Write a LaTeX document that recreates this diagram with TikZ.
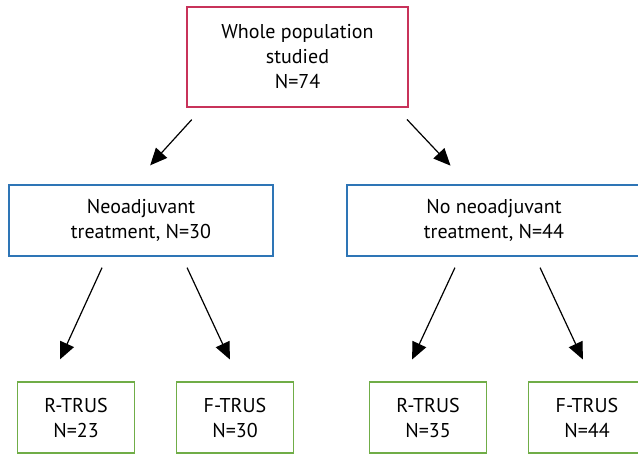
\documentclass[tikz,border=0pt]{standalone}
\usepackage{fontspec}
\setmainfont{PT Sans}
\usetikzlibrary{arrows.meta,positioning}
\definecolor{popred}{HTML}{C8325A}
\definecolor{treatblue}{HTML}{2E75B6}
\definecolor{trusgreen}{HTML}{70AD47}
\tikzset{
	box/.style={draw, line width=1.6pt, align=center, inner sep=0pt, font=\fontsize{20}{25}\selectfont},
	popbox/.style={box, draw=popred, minimum width=221pt, minimum height=100pt},
	treatbox/.style={box, draw=treatblue, minimum height=71pt},
	trusbox/.style={box, draw=trusgreen, minimum width=117pt, minimum height=71pt},
	arr/.style={-{Triangle[length=17pt,width=15pt]}, line width=1.2pt},
}
\begin{document}
\begin{tikzpicture}[x=1pt,y=-1pt]
	\useasboundingbox (0,0) rectangle (638,455);
	% boxes
	\node [popbox] (whole) at (297.5,57) {Whole population\\studied\\N=74};
	\node [treatbox, minimum width=264pt] (neo) at (141,220.5) {Neoadjuvant\\treatment, N=30};
	\node [treatbox, minimum width=294pt] (noneo) at (494,220.5) {No neoadjuvant\\treatment, N=44};
	\node [trusbox] (rneo) at (76,417.5) {R-TRUS\\N=23};
	\node [trusbox] (fneo) at (235,417.5) {F-TRUS\\N=30};
	\node [trusbox] (rno) at (428,417.5) {R-TRUS\\N=35};
	\node [trusbox] (fno) at (587,417.5) {F-TRUS\\N=44};
	% arrows
	\draw [arr, shorten <=16pt, shorten >=25.5pt] ([xshift=-95pt]whole.south) -- ([xshift=-8pt]neo.north);
	\draw [arr, shorten <=16pt, shorten >=25.5pt] ([xshift=98.5pt]whole.south) -- ([xshift=-26pt]noneo.north);
	\draw [arr, shorten <=12pt, shorten >=24pt] ([xshift=-34pt]neo.south) -- ([xshift=-26pt]rneo.north);
	\draw [arr, shorten <=12pt, shorten >=24pt] ([xshift=41pt]neo.south) -- ([xshift=5pt]fneo.north);
	\draw [arr, shorten <=12pt, shorten >=24pt] ([xshift=-34pt]noneo.south) -- ([xshift=-26pt]rno.north);
	\draw [arr, shorten <=12pt, shorten >=24pt] ([xshift=41pt]noneo.south) -- ([xshift=6pt]fno.north);
\end{tikzpicture}
\end{document}
